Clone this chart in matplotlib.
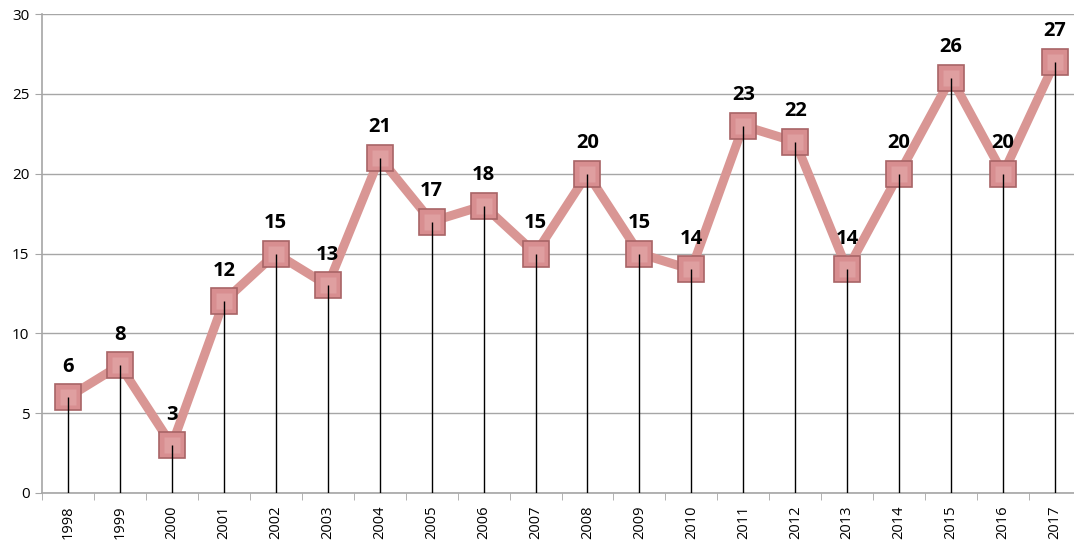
import matplotlib
matplotlib.use("Agg")
import matplotlib.pyplot as plt
import numpy as np

years = [str(y) for y in range(1998, 2018)]
counts = [6, 8, 3, 12, 15, 13, 21, 17, 18, 15, 20, 15, 14, 23, 22, 14, 20, 26, 20, 27]

plt.rcParams["font.family"] = ["Open Sans", "DejaVu Sans"]

fig = plt.figure(figsize=(10.74, 5.42), dpi=100)
ax = fig.add_axes([42 / 1074, 49 / 542, 1039 / 1074, 479 / 542])

x = np.arange(len(years))

ax.plot(x, counts, color="#d99694", lw=6.5, solid_capstyle="round", zorder=3)
ax.plot(x, counts, ls="none", marker="s", ms=18.5, mfc="#d88e90", mec="#a86466", mew=1.2, zorder=4)
# lighter top bevel on each square
ax.plot(x, counts, ls="none", marker="s", ms=12, mfc="#e2a4a5", mec="none", zorder=4.5, alpha=0.8)
ax.vlines(x, 0, counts, color="black", lw=1, zorder=5)

for xi, v in zip(x, counts):
    ax.annotate(str(v), (xi, v), xytext=(0, 22), textcoords="offset points",
                ha="center", va="center", fontsize=14.5, fontweight="bold", zorder=6)

ax.set_xlim(-0.5, len(years) - 0.5)
ax.set_ylim(0, 30)
ax.set_yticks(range(0, 31, 5))
ax.yaxis.grid(True, color="#a6a6a6", lw=1)
ax.set_axisbelow(True)

ax.set_xticks(x)
ax.set_xticklabels(years, rotation=90, fontsize=10.5)
ax.set_xticks(np.arange(-0.5, len(years), 1), minor=True)
ax.tick_params(axis="x", which="major", length=0, pad=9)
ax.tick_params(axis="x", which="minor", length=5, color="#a6a6a6", direction="out")
ax.tick_params(axis="y", length=5, color="#a6a6a6", labelsize=11, pad=4)

for s in ["top", "right"]:
    ax.spines[s].set_visible(False)
ax.spines["left"].set_color("#a6a6a6")
ax.spines["bottom"].set_color("#a6a6a6")
ax.spines["left"].set_linewidth(1.2)
ax.spines["bottom"].set_linewidth(1.2)

fig.savefig("out.png", dpi=100)
